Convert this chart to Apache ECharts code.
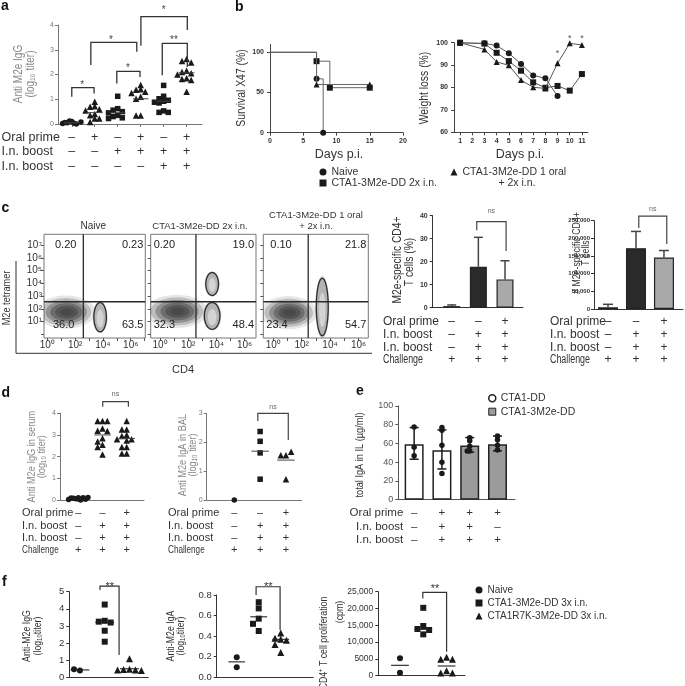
<!DOCTYPE html>
<html>
<head>
<meta charset="utf-8">
<script src="https://cdn.jsdelivr.net/npm/echarts@6.0.0/dist/echarts.min.js"></script>
<style>html,body{margin:0;padding:0;background:#fff;}#chart{width:685px;height:686px;}</style>
</head>
<body>
<div id="chart"></div>
<script>
// ================= DATA =================
// ---- Panel a ----
const aGroupValues = [
  [0.10, 0.05, 0.00, 0.02, 0.08, 0.12, 0.03, 0.06],
  [0.90, 0.72, 0.70, 0.60, 0.55, 0.40, 0.35, 0.22, 0.22, 0.08],
  [1.12, 0.62, 0.56, 0.50, 0.45, 0.35, 0.30, 0.25, 0.22],
  [1.58, 1.40, 1.38, 1.30, 1.25, 1.10, 1.02, 0.34, 0.34],
  [1.56, 1.12, 1.02, 0.96, 0.92, 0.88, 0.85, 0.53, 0.47, 0.47],
  [2.63, 2.55, 2.48, 2.15, 2.10, 2.05, 2.00, 1.85, 1.82, 1.78, 1.30]
];
const aSymbols = ['circle', 'triangle', 'rect', 'triangle', 'rect', 'triangle'];
const aMeans = [0.05, 0.46, 0.45, 1.02, 0.92, 2.07];
const aOralPrime = ['–', '+', '–', '+', '–', '+'];
const aBoost1 = ['–', '–', '+', '+', '+', '+'];
const aBoost2 = ['–', '–', '–', '–', '+', '+'];
const aBrackets = [[1.0, 1.10, 1.97, 1.23, 1.47], [2.96, 1.64, 3.97, 1.90, 2.13], [1.83, 2.38, 3.83, 2.92, 3.30], [4.94, 1.97, 6.03, 2.30, 3.26], [4.01, 3.16, 6.03, 3.80, 4.34]];
const aStars = [[1.45, 1.68, '*'], [3.45, 2.36, '*'], [2.7, 3.52, '*'], [5.45, 3.52, '**'], [5.0, 4.72, '*']];
const aRowLabels = ['Oral prime', 'I.n. boost', 'I.n. boost'];

// ---- Panel b ----
const bNames = ['Naive', 'CTA1-3M2e-DD 2x i.n.', 'CTA1-3M2e-DD 1 oral + 2x i.n.'];
const bSymbols = ['circle', 'rect', 'triangle'];
const survNaive = [[0, 100], [7, 67], [8, 0]];
const survIn2x = [[0, 100], [7, 89], [9, 56], [15, 56]];
const survOral = [[0, 100], [7, 60], [15, 60]];
const survYTicks = [0, 50, 100];
const weightDays = ['1', '2', '3', '4', '5', '6', '7', '8', '9', '10', '11'];
const weightNaive = [100, null, 99.7, 98.7, 95.3, 90.5, 85.4, 84.1, 76.2, null, null];
const weightIn2x = [100, null, 99.6, 95.5, 91.8, 87.5, 82.3, 79.9, 80.7, 78.6, 86.0];
const weightOral = [100, null, 97.0, 91.4, 89.9, 83.3, 80.1, 79.6, 90.8, 99.7, 99.0];
const weightStars = [[8, 96.4, '*'], [9, 103, '*'], [10, 103, '*']];

// ---- Panel c (flow) ----
const flowTitles = ['Naive', 'CTA1-3M2e-DD 2x i.n.', 'CTA1-3M2e-DD 1 oral|+ 2x i.n.'];
const flowQuadrants = [['0.20', '0.23', '36.0', '63.5'], ['0.20', '19.0', '32.3', '48.4'], ['0.10', '21.8', '23.4', '54.7']];
const flowGateX = [2.59, 2.55, 2.46];
const flowGateY = [2.56, 2.56, 2.56];
const flowXLabels = [0, 2, 4, 6];
const flowYLabels = [1, 2, 3, 4, 5, 6, 7];
const flowDecades = [0, 1, 2, 3, 4, 5, 6, 7];
// populations: [centre log10 CD4, centre log10 tetramer, half-width, half-height, kind 0=CD4- cloud 1=CD4+ contour]
const flowPops = [
  [[1.35, 1.75, 1.65, 1.0, 0], [3.8, 1.35, 0.45, 1.15, 1]],
  [[1.2, 1.80, 1.70, 1.0, 0], [3.7, 1.45, 0.55, 1.05, 1], [3.7, 3.95, 0.45, 0.90, 1]],
  [[1.1, 1.70, 1.55, 1.0, 0], [3.45, 2.15, 0.42, 2.25, 1]]
];
// ---- Panel c (bars) ----
const cPctMean = [0.7, 17.8, 12.3];
const cPctErrTop = [1.2, 30.6, 20.4];
const cCountMean = [5000, 172000, 146000];
const cCountErrTop = [13300, 219600, 165600];
const cBarColors = ['#cfcfcf', '#2a2a2a', '#a9a9a9'];
const cOralPrime = ['–', '–', '+'];
const cBoost1 = ['–', '+', '+'];
const cBoost2 = ['–', '+', '+'];
const cChallenge = ['+', '+', '+'];
const cPctBracket = [[1.94, 33.7, 3.04, 24.6, 37.4]];
const cPctNs = [[2.49, 42, 'ns']];
const cCountBracket = [[2.1, 229000, 3.1, 184000, 263000]];
const cCountNs = [[2.6, 284000, 'ns']];
const cRowLabels = ['Oral prime', 'I.n. boost', 'I.n. boost', 'Challenge'];

// ---- Panel d ----
const dSerumValues = [
  [0.05, 0.08, 0.10, 0.02, 0.12, 0.06, 0.00, 0.09, 0.04, 0.10],
  [3.65, 3.65, 3.65, 3.30, 3.20, 3.18, 2.85, 2.70, 2.55, 2.45, 2.10],
  [3.65, 3.25, 3.25, 3.00, 2.95, 2.80, 2.80, 2.75, 2.45, 2.45, 2.15, 2.15]
];
const dSerumSymbols = ['circle', 'triangle', 'triangle'];
const dSerumMeans = [null, 3.0, 2.84];
const dSerumBracket = [[2.01, 4.3, 3.07, 4.3, 4.54]];
const dSerumNs = [[2.54, 4.9, 'ns']];
const dBalValues = [[0.0], [2.37, 2.03, 1.63, 0.72], [1.55, 1.55, 1.67, 0.72]];
const dBalSymbols = ['circle', 'rect', 'triangle'];
const dBalMeans = [null, 1.69, 1.38];
const dBalBracket = [[1.91, 2.73, 3.09, 2.08, 3.0]];
const dBalNs = [[2.5, 3.23, 'ns']];
const dOralPrime = ['–', '–', '+'];
const dBoost1 = ['–', '+', '+'];
const dBoost2 = ['–', '+', '+'];
const dChallenge = ['+', '+', '+'];

// ---- Panel e ----
const eNames = ['CTA1-DD', 'CTA1-3M2e-DD'];
const eBarMeans = [59.2, 52.8, 57.8, 59.2];
const eErrLow = [43.2, 32.8, 50.7, 52.1];
const eErrHigh = [77.0, 74.5, 66.3, 67.9];
const ePoints = [[77.5, 56, 47], [77, 74, 58, 40, 28], [66, 63, 57, 52, 52], [68, 64, 58, 53]];
const eOralPrime = ['–', '+', '+', '+'];
const eBoost1 = ['–', '+', '+', '–'];
const eBoost2 = ['–', '+', '+', '+'];

// ---- Panel f ----
const fNames = ['Naive', 'CTA1-3M2e-DD 3x i.n.', 'CTA1R7K-3M2e-DD 3x i.n.'];
const fSymbols = ['circle', 'rect', 'triangle'];
const fIgGValues = [[0.39, 0.47], [4.25, 3.30, 3.25, 3.20, 2.72, 2.08], [1.09, 0.47, 0.45, 0.42, 0.42, 0.40]];
const fIgGMeans = [0.43, 3.21, 0.50];
const fIgGBracket = [[1.81, 5.1, 2.58, 1.3, 5.33]];
const fIgGStars = [[2.2, 5.45, '**']];
const fIgAValues = [[0.194, 0.097], [0.73, 0.67, 0.57, 0.52, 0.45], [0.43, 0.38, 0.37, 0.36, 0.32, 0.24]];
const fIgAMeans = [0.15, 0.588, 0.369];
const fIgABracket = [[1.88, 0.80, 2.97, 0.46, 0.88]];
const fIgAStars = [[2.43, 0.915, '**']];
const fProlifValues = [[5170, 890], [20200, 14800, 13900, 13600, 12300], [5500, 4900, 4900, 1500, 800, 800]];
const fProlifMeans = [3090, 13800, 2890];
const fProlifBracket = [[1.98, 23000, 3.0, 7140, 24800]];
const fProlifStars = [[2.5, 26700, '**']];

// ================= BUILD =================
const FONT = "'Liberation Sans', Arial, Helvetica, sans-serif";
const SUP = {0: '⁰', 1: '¹', 2: '²', 3: '³', 4: '⁴', 5: '⁵', 6: '⁶', 7: '⁷'};
const grid = [], xAxis = [], yAxis = [], series = [], graphic = [], legend = [];

function axisCfg(gi, o) {
  const lc = o.lc || '#444';
  const a = {
    type: o.type || 'value', gridIndex: gi, splitLine: {show: false},
    axisLine: {show: o.line !== false, onZero: false, lineStyle: {color: lc, width: o.lw || 1}},
    axisTick: {show: o.tick !== false, length: o.tl || 3, inside: !!o.tin, lineStyle: {color: lc, width: o.lw || 1}},
    axisLabel: {show: o.label !== false, fontSize: o.fs || 7, color: o.c || '#333', fontFamily: FONT,
      fontWeight: o.fw || 'normal', margin: o.margin == null ? 4 : o.margin}
  };
  if (a.type !== 'category') { a.min = o.min; a.max = o.max; }
  if (o.interval != null) a.interval = o.interval;
  if (o.data) { a.data = o.data; a.boundaryGap = true; a.axisTick.alignWithLabel = true; a.axisTick.interval = 0; a.axisLabel.interval = 0; }
  if (o.ticks) a.axisTick.customValues = o.ticks;
  if (o.labels) a.axisLabel.customValues = o.labels;
  if (o.fmt) a.axisLabel.formatter = o.fmt;
  if (o.lh) a.axisLabel.lineHeight = o.lh;
  return a;
}
function panel(rect, xo, yo, gextra) {
  const gi = grid.length;
  grid.push(Object.assign({left: rect[0], top: rect[1], width: rect[2], height: rect[3], show: false}, gextra || {}));
  xAxis.push(Object.assign(axisCfg(gi, xo), {position: 'bottom'}));
  yAxis.push(Object.assign(axisCfg(gi, yo), {position: 'left'}));
  return gi;
}
function signFmt(rowsArr) {
  return v => { const i = Math.round(v) - 1; return rowsArr.map(r => r[i] == null ? '' : r[i]).join('\n'); };
}
function swarm(vals, g, step, thr) {
  const placed = [];
  const order = [0, -1, 1, -2, 2];
  const fallback = [-0.5, 0.5, -1.5, 1.5, 0];
  let fb = 0;
  return vals.map(v => {
    let x = null;
    for (const k of order) {
      const cx = g + k * step;
      if (!placed.some(p => Math.abs(p[1] - v) < thr && Math.abs(p[0] - cx) < step * 0.9)) { x = cx; break; }
    }
    if (x === null) { x = g + fallback[fb % fallback.length] * step; fb++; }
    placed.push([x, v]);
    return [x, v];
  });
}
function scatterS(gi, data, symbol, name, size) {
  return {type: 'scatter', name: name, xAxisIndex: gi, yAxisIndex: gi, data: data, symbol: symbol,
    symbolSize: size || (symbol === 'triangle' ? 6.5 : 5.5), itemStyle: {color: '#1a1a1a', opacity: 1},
    clip: false, silent: true, z: 3};
}
function baseCustom(gi, data, render, z) {
  return {type: 'custom', coordinateSystem: 'cartesian2d', xAxisIndex: gi, yAxisIndex: gi, clip: false, silent: true,
    z: z || 4, data: data, renderItem: render};
}
function segS(gi, segs, style) {
  return baseCustom(gi, segs, (p, api) => {
    const a = api.coord([api.value(0), api.value(1)]), b = api.coord([api.value(2), api.value(3)]);
    return {type: 'line', shape: {x1: a[0], y1: a[1], x2: b[0], y2: b[1]}, style: Object.assign({stroke: '#333', lineWidth: 1}, style || {})};
  });
}
function meanSegs(means, half) {
  return means.map((m, k) => m == null ? null : [k + 1 - half, m, k + 1 + half, m]).filter(s => s);
}
function bracketS(gi, br, style) {
  return baseCustom(gi, br, (p, api) => {
    const x1 = api.value(0), y1 = api.value(1), x2 = api.value(2), y2 = api.value(3), tp = api.value(4);
    const pts = [api.coord([x1, y1]), api.coord([x1, tp]), api.coord([x2, tp]), api.coord([x2, y2])];
    return {type: 'polyline', shape: {points: pts}, style: Object.assign({stroke: '#333', lineWidth: 1.2, fill: 'none'}, style || {})};
  });
}
function textS(gi, items, st) {
  const fs = st.fontSize || 10;
  return baseCustom(gi, items.map(it => [it[0], it[1]]), (p, api) => {
    const c = api.coord([api.value(0), api.value(1)]);
    const s = items[p.dataIndex][2];
    return {type: 'text', x: c[0], y: c[1] + (s.indexOf('*') >= 0 ? fs * 0.3 : 0),
      style: {text: s, fontSize: fs, fontFamily: FONT, fill: st.fill || '#333', align: 'center', verticalAlign: 'middle'}};
  }, 5);
}
function errS(gi, items, cap, both, style) {
  return baseCustom(gi, items, (p, api) => {
    const x = api.value(0);
    const lo = api.coord([x, api.value(1)]), hi = api.coord([x, api.value(2)]);
    const st = Object.assign({stroke: '#222', lineWidth: 1.4}, style || {});
    const ch = [{type: 'line', shape: {x1: lo[0], y1: lo[1], x2: hi[0], y2: hi[1]}, style: st},
      {type: 'line', shape: {x1: hi[0] - cap, y1: hi[1], x2: hi[0] + cap, y2: hi[1]}, style: st}];
    if (both) ch.push({type: 'line', shape: {x1: lo[0] - cap, y1: lo[1], x2: lo[0] + cap, y2: lo[1]}, style: st});
    return {type: 'group', children: ch};
  }, 5);
}
function ellipsePts(api, cx, cy, rx, ry) {
  const pts = [];
  for (let i = 0; i < 48; i++) { const a = i / 48 * Math.PI * 2; pts.push(api.coord([cx + rx * Math.cos(a), cy + ry * Math.sin(a)])); }
  return pts;
}
const CLOUD_LEVELS = [[1.3, 0.12], [1.1, 0.22], [0.9, 0.32], [0.7, 0.38], [0.5, 0.4], [0.3, 0.32]];
function popS(gi, pops) {
  const s = baseCustom(gi, pops, (p, api) => {
    const cx = api.value(0), cy = api.value(1), rx = api.value(2), ry = api.value(3), kind = api.value(4);
    if (kind === 0) {
      return {type: 'group', children: CLOUD_LEVELS.map(l => ({type: 'polygon',
        shape: {points: ellipsePts(api, cx + 0.08 * (1 - l[0]), cy, rx * l[0], ry * l[0])},
        style: {fill: 'rgba(50,50,50,' + l[1] + ')'}}))};
    }
    return {type: 'group', children: [
      {type: 'polygon', shape: {points: ellipsePts(api, cx, cy, rx * 1.18, ry * 1.08)}, style: {fill: 'rgba(70,70,70,0.25)'}},
      {type: 'polygon', shape: {points: ellipsePts(api, cx, cy, rx, ry)}, style: {fill: '#b4b4b4', stroke: '#2e2e2e', lineWidth: 1.3}},
      {type: 'polygon', shape: {points: ellipsePts(api, cx, cy - ry * 0.1, rx * 0.55, ry * 0.6)}, style: {fill: 'rgba(225,225,225,0.7)'}}]};
  }, 2);
  s.clip = true;
  return s;
}
function gateS(gi, gx, gy) {
  return baseCustom(gi, [[gx, gy]], (p, api) => {
    const cs = p.coordSys; const c = api.coord([api.value(0), api.value(1)]);
    const st = {stroke: '#2a2a2a', lineWidth: 1.3};
    return {type: 'group', children: [
      {type: 'line', shape: {x1: c[0], y1: cs.y, x2: c[0], y2: cs.y + cs.height}, style: st},
      {type: 'line', shape: {x1: cs.x, y1: c[1], x2: cs.x + cs.width, y2: c[1]}, style: st}]};
  }, 4);
}
function quadS(gi, nums, padUL, padLL) {
  return baseCustom(gi, nums.map((n, i) => [i, i]), (p, api) => {
    const cs = p.coordSys; const i = p.dataIndex;
    const top = i < 2, left = i % 2 === 0;
    const x = left ? cs.x + (top ? padUL : padLL) : cs.x + cs.width - 2;
    const y = top ? cs.y + 5 : cs.y + cs.height - 8;
    return {type: 'text', x: x, y: y, style: {text: nums[i], fontSize: 11, fontFamily: FONT, fill: '#222',
      align: left ? 'left' : 'right', verticalAlign: top ? 'top' : 'bottom'}};
  }, 6);
}
// graphic helpers
function t(x, y, text, o) {
  o = o || {};
  graphic.push({type: 'text', x: x, y: y, rotation: o.rot || 0, scaleX: o.sx || 1, scaleY: 1, silent: true, z: 10,
    style: {text: text, fontSize: o.fs || 12, fontFamily: FONT, fontWeight: o.fw || 'normal', fill: o.c || '#333',
      align: o.al || 'left', verticalAlign: o.va || 'middle', textAlign: o.al || 'left', textVerticalAlign: o.va || 'middle'}});
}
function vt(x, y, text, o) { t(x, y, text, Object.assign({rot: Math.PI / 2, sx: 0.8, al: 'center', va: 'middle'}, o || {})); }
function ln(x1, y1, x2, y2, c, w) { graphic.push({type: 'line', silent: true, z: 10, shape: {x1: x1, y1: y1, x2: x2, y2: y2}, style: {stroke: c || '#333', lineWidth: w || 1}}); }
function rows(x, axisY, margin, lh, labels, fs, al) {
  labels.forEach((s, i) => t(x, axisY + margin + lh * (i + 0.5), s, {fs: fs, al: al || 'left', sx: s === 'Challenge' ? 0.74 : 1}));
}
function legendBox(left, centerY, lh, fs, data, extra) {
  legend.push(Object.assign({left: left, top: centerY - lh / 2, orient: 'vertical', padding: 0, itemWidth: 7, itemHeight: 7, itemGap: 0,
    selectedMode: false, textStyle: {fontSize: fs, color: '#333', fontFamily: FONT, lineHeight: lh}, data: data}, extra || {}));
}

// ---------- Panel a ----------
const gA = panel([58, 25, 144, 99],
  {min: 0.4, max: 6.67, ticks: [1, 2, 3, 4, 5, 6], labels: [1, 2, 3, 4, 5, 6], fmt: signFmt([aOralPrime, aBoost1, aBoost2]), fs: 12.5, lh: 14.5, margin: 6, lc: '#777', c: '#333'},
  {min: 0, max: 4, interval: 1, fs: 7, c: '#777', lc: '#777'});
aGroupValues.forEach((vals, k) => series.push(scatterS(gA, swarm(vals, k + 1, 0.2, 0.17), aSymbols[k])));
series.push(segS(gA, meanSegs(aMeans, 0.34), {stroke: '#444', lineWidth: 1}));
series.push(bracketS(gA, aBrackets, {stroke: '#333', lineWidth: 1.3}));
series.push(textS(gA, aStars, {fontSize: 10, fill: '#444'}));
t(1, -1, 'a', {fs: 14, fw: 'bold', va: 'top', c: '#111'});
vt(19, 74, 'Anti M2e IgG', {fs: 12.5, c: '#888'});
vt(31, 74, '(log₁₀ titer)', {fs: 12.5, c: '#888'});
rows(1.5, 124, 6, 14.5, aRowLabels, 12.5);

// ---------- Panel b ----------
const gB1 = panel([270, 44.3, 133, 88.4],
  {min: 0, max: 20, interval: 5, fs: 7, fw: 'bold', margin: 5},
  {min: 0, max: 110, ticks: survYTicks, labels: survYTicks, fs: 7, fw: 'bold', margin: 6});
[survNaive, survIn2x, survOral].forEach((arr, k) => series.push({
  type: 'line', name: bNames[k], xAxisIndex: gB1, yAxisIndex: gB1, step: 'end', symbol: bSymbols[k], symbolSize: 6,
  showAllSymbol: true, data: arr.map((p, i) => i === 0 ? {value: p, symbol: 'none'} : p),
  itemStyle: {color: '#1a1a1a'}, lineStyle: {color: '#666', width: 1}, silent: true, z: 3 + k}));
const gB2 = panel([454, 42.7, 134, 89.6],
  {type: 'category', data: weightDays, fs: 7, fw: 'bold', margin: 5},
  {min: 60, max: 100, interval: 10, fs: 7, fw: 'bold', margin: 6});
[weightNaive, weightIn2x, weightOral].forEach((arr, k) => series.push({
  type: 'line', name: bNames[k], xAxisIndex: gB2, yAxisIndex: gB2, symbol: bSymbols[k], symbolSize: 6, connectNulls: true,
  showAllSymbol: true, data: arr, itemStyle: {color: '#1a1a1a'}, lineStyle: {color: '#555', width: 1}, silent: true, z: 3 + k}));
series.push(textS(gB2, weightStars, {fontSize: 9, fill: '#555'}));
t(235, 0, 'b', {fs: 14, fw: 'bold', va: 'top', c: '#111'});
vt(241, 88, 'Survival X47 (%)', {fs: 13});
vt(424, 88, 'Weight loss (%)', {fs: 13});
t(339, 155, 'Days p.i.', {fs: 12.5, al: 'center'});
t(520, 155, 'Days p.i.', {fs: 12.5, al: 'center'});
legendBox(319.5, 172, 11, 10.5, [{name: bNames[0], icon: 'circle', itemStyle: {color: '#1a1a1a'}}, {name: bNames[1], icon: 'rect', itemStyle: {color: '#1a1a1a'}}]);
legendBox(450.5, 172, 11, 10.5, [{name: bNames[2], icon: 'triangle', itemStyle: {color: '#1a1a1a'}}], {formatter: n => n.replace(' + 2x i.n.', '')});
t(517, 183, '+ 2x i.n.', {fs: 10.5, al: 'center'});

// ---------- Panel c: flow ----------
const flowRects = [[44, 234.3, 101.3, 103.7], [150.7, 234.3, 105.3, 103.7], [263.3, 234.3, 105, 103.7]];
const flowXRange = [[-0.24, 7.05], [-0.66, 6.81], [-0.7, 6.69]];
const supFmt = v => '10' + SUP[Math.round(v)];
flowRects.forEach((r, k) => {
  const gi = panel(r,
    {min: flowXRange[k][0], max: flowXRange[k][1], line: false, ticks: flowDecades, labels: flowXLabels, fmt: supFmt, fs: 10, margin: 2, lc: '#555'},
    {min: -0.28, max: 7.84, line: false, ticks: flowDecades, labels: k === 0 ? flowYLabels : [], label: k === 0, fmt: supFmt, fs: 10, margin: 2, lc: '#555'},
    {show: true, borderColor: '#777', borderWidth: 1, backgroundColor: 'rgba(0,0,0,0)'});
  series.push(popS(gi, flowPops[k]));
  series.push(gateS(gi, flowGateX[k], flowGateY[k]));
  series.push(quadS(gi, flowQuadrants[k], [11, 3, 7][k], [9, 3, 3][k]));
});
t(1.5, 201, 'c', {fs: 14, fw: 'bold', va: 'top', c: '#111'});
t(93.3, 226, flowTitles[0], {fs: 10, al: 'center'});
t(200, 226, flowTitles[1], {fs: 9.5, al: 'center'});
flowTitles[2].split('|').forEach((s, i) => t(316, 215 + i * 11.5, s, {fs: 9.5, al: 'center'}));
vt(6.5, 298, 'M2e tetramer', {fs: 11.5});
t(183, 370, 'CD4', {fs: 11, al: 'center'});
ln(16, 261, 16, 353.3, '#333', 1);
ln(16, 353.3, 372, 353.3, '#333', 1);

// ---------- Panel c: bars ----------
const cSigns = signFmt([cOralPrime, cBoost1, cBoost2, cChallenge]);
const gC4 = panel([432.7, 215.7, 90.3, 92],
  {min: 0.287, max: 3.675, tick: false, labels: [1, 2, 3], fmt: cSigns, fs: 12, lh: 12.8, margin: 7.6, lc: '#333'},
  {min: 0, max: 40, interval: 10, fs: 7, fw: 'bold', margin: 5, lc: '#333'});
series.push({type: 'bar', xAxisIndex: gC4, yAxisIndex: gC4, barWidth: 17, silent: true, z: 2,
  itemStyle: {borderColor: '#222', borderWidth: 1.2},
  data: cPctMean.map((v, i) => ({value: [i + 1, v], itemStyle: {color: cBarColors[i], borderColor: '#222', borderWidth: 1.2}}))});
series.push(errS(gC4, cPctMean.map((v, i) => [i + 1, v, cPctErrTop[i]]), 4.5, false, {stroke: '#444', lineWidth: 1.5}));
series.push(bracketS(gC4, cPctBracket, {stroke: '#444', lineWidth: 1.2}));
series.push(textS(gC4, cPctNs, {fontSize: 7, fill: '#666'}));
const gC5 = panel([594, 220.7, 89, 88.3],
  {min: 0.5, max: 3.68, tick: false, labels: [1, 2, 3], fmt: cSigns, fs: 12, lh: 12.8, margin: 6.3, lc: '#333'},
  {min: 0, max: 250000, interval: 50000, fs: 6, fw: 'bold', margin: 4, lc: '#333', fmt: v => v === 0 ? '0' : v.toLocaleString('en-US')});
series.push({type: 'bar', xAxisIndex: gC5, yAxisIndex: gC5, barWidth: 20, silent: true, z: 2,
  itemStyle: {borderColor: '#222', borderWidth: 1.2},
  data: cCountMean.map((v, i) => ({value: [i + 1, v], itemStyle: {color: cBarColors[i], borderColor: '#222', borderWidth: 1.2}}))});
series.push(errS(gC5, cCountMean.map((v, i) => [i + 1, v, cCountErrTop[i]]), 5, false, {stroke: '#444', lineWidth: 1.5}));
series.push(bracketS(gC5, cCountBracket, {stroke: '#444', lineWidth: 1.2}));
series.push(textS(gC5, cCountNs, {fontSize: 7, fill: '#666'}));
vt(398, 260, 'M2e-specific CD4+', {fs: 12.5, sx: 0.82});
vt(409.5, 262, 'T cells (%)', {fs: 12.5, sx: 0.82});
vt(577, 253, '# M2e-specific CD4+', {fs: 11});
vt(585.5, 253, 'T cells', {fs: 11});
rows(383, 307.7, 7.6, 12.8, cRowLabels, 12);
rows(550, 309, 6.3, 12.8, cRowLabels, 12);

// ---------- Panel d ----------
const dSigns = signFmt([dOralPrime, dBoost1, dBoost2, dChallenge]);
const gD1 = panel([60, 413.3, 84, 86.7],
  {min: 0.244, max: 3.715, tick: false, labels: [1, 2, 3], fmt: dSigns, fs: 11, lh: 12.25, margin: 7.2, lc: '#777'},
  {min: 0, max: 4, interval: 1, fs: 7, c: '#777', lc: '#777'});
dSerumValues.forEach((vals, k) => series.push(scatterS(gD1, swarm(vals, k + 1, 0.2, 0.23), dSerumSymbols[k])));
series.push(segS(gD1, meanSegs(dSerumMeans, 0.34), {stroke: '#444'}));
series.push(bracketS(gD1, dSerumBracket, {stroke: '#444', lineWidth: 1.2}));
series.push(textS(gD1, dSerumNs, {fontSize: 7, fill: '#666'}));
const gD2 = panel([206.7, 413.3, 95, 86.7],
  {min: -0.07, max: 3.61, tick: false, labels: [1, 2, 3], fmt: dSigns, fs: 11, lh: 12.25, margin: 7.2, lc: '#777'},
  {min: 0, max: 3, interval: 1, fs: 7, c: '#777', lc: '#777'});
dBalValues.forEach((vals, k) => series.push(scatterS(gD2, swarm(vals, k + 1, 0.2, 0.17), dBalSymbols[k])));
series.push(segS(gD2, meanSegs(dBalMeans, 0.34), {stroke: '#444'}));
series.push(bracketS(gD2, dBalBracket, {stroke: '#444', lineWidth: 1.2}));
series.push(textS(gD2, dBalNs, {fontSize: 7, fill: '#666'}));
t(1.5, 386, 'd', {fs: 14, fw: 'bold', va: 'top', c: '#111'});
vt(31.7, 456.7, 'Anti M2e IgG in serum', {fs: 11.5, c: '#888'});
vt(41.7, 456.7, '(log₁₀ titer)', {fs: 11.5, c: '#888'});
vt(183, 455, 'Anti M2e IgA in BAL', {fs: 11.5, c: '#888'});
vt(193, 455, '(log₁₀ titer)', {fs: 11.5, c: '#888'});
rows(22, 500, 7.2, 12.25, cRowLabels, 11);
rows(168, 500, 7.2, 12.25, cRowLabels, 11);

// ---------- Panel e ----------
const gE = panel([398.3, 406, 116.7, 93.7],
  {min: 0.43, max: 4.63, tick: false, labels: [1, 2, 3, 4], fmt: signFmt([eOralPrime, eBoost1, eBoost2]), fs: 11.5, lh: 13.7, margin: 6.15, lc: '#555'},
  {min: 0, max: 100, interval: 20, fs: 9, c: '#555', lc: '#555', margin: 5});
series.push({type: 'bar', name: eNames[0], xAxisIndex: gE, yAxisIndex: gE, barWidth: 19, barGap: '-100%', silent: true, z: 2,
  itemStyle: {color: '#ffffff', borderColor: '#222', borderWidth: 1.5}, data: [[1, eBarMeans[0]], [2, eBarMeans[1]]]});
series.push({type: 'bar', name: eNames[1], xAxisIndex: gE, yAxisIndex: gE, barWidth: 19, barGap: '-100%', silent: true, z: 2,
  itemStyle: {color: '#9b9b9b', borderColor: '#222', borderWidth: 1.5}, data: [[3, eBarMeans[2]], [4, eBarMeans[3]]]});
series.push(errS(gE, eBarMeans.map((v, i) => [i + 1, eErrLow[i], eErrHigh[i]]), 4.5, true, {stroke: '#1a1a1a', lineWidth: 1.5}));
ePoints.forEach((vals, k) => series.push(scatterS(gE, swarm(vals, k + 1, 0.09, 3), 'circle', undefined, 5.5)));
t(356, 384, 'e', {fs: 14, fw: 'bold', va: 'top', c: '#111'});
vt(360, 455, 'total IgA in IL (µg/ml)', {fs: 11.5});
rows(403.3, 499.7, 6.15, 13.7, aRowLabels, 11.5, 'right');
legendBox(488, 398.3, 13.4, 10.5, [{name: eNames[0], icon: 'circle', itemStyle: {color: '#ffffff', borderColor: '#222', borderWidth: 1.5}},
  {name: eNames[1], icon: 'rect', itemStyle: {color: '#9b9b9b', borderColor: '#222', borderWidth: 1}}]);

// ---------- Panel f ----------
function fPanel(rect, xr, yo, vals, means, br, stars, step, thr) {
  const gi = panel(rect, {min: xr[0], max: xr[1], tick: false, label: false, lc: '#333'}, Object.assign({lc: '#333', c: '#333', margin: 5}, yo));
  vals.forEach((v, k) => series.push(scatterS(gi, swarm(v, k + 1, step, thr), fSymbols[k], fNames[k], fSymbols[k] === 'triangle' ? 7 : 6)));
  series.push(segS(gi, meanSegs(means, 0.38), {stroke: '#222', lineWidth: 1.1}));
  series.push(bracketS(gi, br, {stroke: '#333', lineWidth: 1.2}));
  series.push(textS(gi, stars, {fontSize: 11, fill: '#333'}));
  return gi;
}
fPanel([69.3, 591.7, 79, 85.6], [0.57, 3.76], {min: 0, max: 5, interval: 1, fs: 9.5}, fIgGValues, fIgGMeans, fIgGBracket, fIgGStars, 0.24, 0.3);
fPanel([216.7, 595, 96.6, 82.3], [0.09, 4.48], {min: 0, max: 0.8, interval: 0.2, fs: 9.5, fmt: v => v.toFixed(1)}, fIgAValues, fIgAMeans, fIgABracket, fIgAStars, 0.26, 0.05);
fPanel([378.3, 591.7, 86.7, 84], [0.07, 3.79], {min: 0, max: 25000, interval: 5000, fs: 8.5, fmt: v => v >= 10000 ? v.toLocaleString('en-US') : String(v)}, fProlifValues, fProlifMeans, fProlifBracket, fProlifStars, 0.25, 1500);
t(2, 575, 'f', {fs: 14, fw: 'bold', va: 'top', c: '#111'});
vt(26.7, 636, 'Anti-M2e IgG', {fs: 11});
vt(37.5, 636, '(log₁₀titer)', {fs: 11});
vt(171, 636, 'Anti-M2e IgA', {fs: 11});
vt(181, 636, '(log₁₀titer)', {fs: 11});
vt(323.5, 643, 'CD4⁺ T cell proliferation', {fs: 11});
vt(340, 612, '(cpm)', {fs: 11});
legendBox(475.5, 590, 13, 10, fNames.map((n, i) => ({name: n, icon: fSymbols[i], itemStyle: {color: '#1a1a1a'}})));

// ================= RENDER =================
const chart = echarts.init(document.getElementById('chart'), null, {renderer: 'canvas'});
chart.setOption({
  animation: false, backgroundColor: '#ffffff', textStyle: {fontFamily: FONT},
  grid: grid, xAxis: xAxis, yAxis: yAxis, series: series, legend: legend,
  graphic: {elements: graphic}
});
</script>
</body>
</html>
